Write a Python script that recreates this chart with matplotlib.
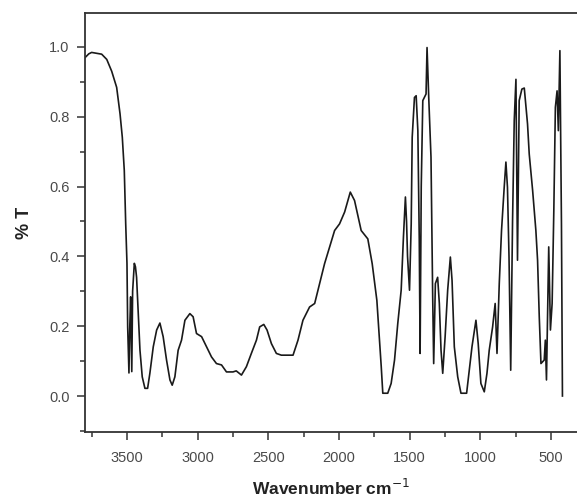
import matplotlib.pyplot as plt
from matplotlib.ticker import MultipleLocator

# IR spectrum (wavenumber in cm-1, transmittance)
wavenumber = [
    3797, 3770, 3750, 3720, 3679, 3643, 3608, 3573, 3549, 3533, 3519, 3509,
    3500, 3495, 3486, 3480, 3474, 3466, 3460, 3448, 3440, 3432, 3420, 3408,
    3392, 3373, 3354, 3338, 3314, 3290, 3267, 3244, 3220, 3196, 3180, 3161,
    3138, 3114, 3090, 3055, 3032, 3008, 2972, 2937, 2902, 2867, 2831, 2796,
    2750, 2727, 2690, 2655, 2620, 2584, 2561, 2532, 2509, 2478, 2443, 2408,
    2325, 2290, 2255, 2208, 2172, 2137, 2102, 2066, 2031, 1996, 1960, 1920,
    1890, 1843, 1796, 1765, 1732, 1718, 1701, 1690, 1655, 1631, 1607, 1584,
    1560, 1544, 1530, 1522, 1515, 1501, 1489, 1482, 1466, 1454, 1442, 1432,
    1426, 1418, 1407, 1384, 1377, 1365, 1349, 1337, 1330, 1318, 1302, 1290,
    1278, 1266, 1249, 1231, 1212, 1200, 1184, 1160, 1137, 1097, 1078, 1059,
    1031, 1015, 996, 972, 953, 937, 913, 895, 882, 866, 850, 831,
    819, 808, 797, 785, 772, 760, 748, 737, 725, 706, 689, 666,
    654, 630, 607, 595, 583, 571, 548, 540, 532, 516, 504, 492,
    480, 469, 457, 448, 437, 426, 419,
]
transmittance = [
    0.969, 0.980, 0.984, 0.982, 0.979, 0.964, 0.930, 0.884, 0.808, 0.741, 0.646, 0.494,
    0.380, 0.198, 0.066, 0.200, 0.284, 0.070, 0.300, 0.380, 0.370, 0.340, 0.236, 0.131,
    0.055, 0.022, 0.022, 0.065, 0.141, 0.189, 0.209, 0.170, 0.103, 0.046, 0.031, 0.055,
    0.131, 0.160, 0.217, 0.236, 0.227, 0.179, 0.170, 0.141, 0.112, 0.093, 0.089, 0.069,
    0.069, 0.072, 0.060, 0.084, 0.122, 0.160, 0.198, 0.205, 0.189, 0.150, 0.122, 0.117,
    0.117, 0.160, 0.217, 0.255, 0.265, 0.322, 0.379, 0.427, 0.474, 0.493, 0.527, 0.584,
    0.560, 0.474, 0.450, 0.379, 0.274, 0.189, 0.084, 0.008, 0.008, 0.036, 0.103, 0.208,
    0.303, 0.455, 0.570, 0.500, 0.400, 0.303, 0.493, 0.741, 0.855, 0.860, 0.760, 0.450,
    0.122, 0.600, 0.846, 0.865, 0.998, 0.855, 0.684, 0.284, 0.093, 0.322, 0.340, 0.265,
    0.131, 0.065, 0.170, 0.303, 0.398, 0.331, 0.141, 0.055, 0.008, 0.008, 0.074, 0.141,
    0.217, 0.150, 0.036, 0.012, 0.065, 0.131, 0.198, 0.265, 0.122, 0.322, 0.474, 0.598,
    0.670, 0.598, 0.398, 0.074, 0.500, 0.789, 0.907, 0.389, 0.846, 0.879, 0.882, 0.779,
    0.693, 0.589, 0.474, 0.389, 0.227, 0.093, 0.103, 0.160, 0.046, 0.427, 0.189, 0.265,
    0.531, 0.827, 0.874, 0.760, 0.989, 0.494, 0.000,
]

plt.rcParams['font.family'] = ['Liberation Sans', 'DejaVu Sans']

fig = plt.figure(figsize=(5.77, 4.99), dpi=100)
ax = fig.add_axes([0.1473, 0.1343, 0.8527, 0.8397])

ax.plot(wavenumber, transmittance, color='#1a1a1a', linewidth=1.2)

ax.set_xlim(3797, 316)
ax.set_ylim(-0.103, 1.097)
ax.xaxis.set_major_locator(MultipleLocator(500))
ax.xaxis.set_minor_locator(MultipleLocator(250))
ax.yaxis.set_major_locator(MultipleLocator(0.2))
ax.yaxis.set_minor_locator(MultipleLocator(0.1))
ax.yaxis.set_major_formatter(plt.FuncFormatter(lambda v, p: f"{v:.1f}"))

ax.tick_params(which='major', direction='out', length=6, width=1.1,
               color='#333333', labelcolor='#4a4a4a', labelsize=10.5, pad=5)
ax.tick_params(which='minor', direction='out', length=3.5, width=1.1, color='#333333')
ax.tick_params(axis='x', which='major', pad=8)

for side in ['left', 'bottom', 'top']:
    ax.spines[side].set_linewidth(1.3)
    ax.spines[side].set_color('#333333')
ax.spines['right'].set_visible(False)

ax.set_xlabel('Wavenumber cm$^{-1}$', fontsize=12.5, fontweight='bold', color='#222222', labelpad=9)
ax.set_ylabel('% T', fontsize=13, fontweight='bold', color='#222222', labelpad=12)

fig.savefig('out.png', dpi=100)
